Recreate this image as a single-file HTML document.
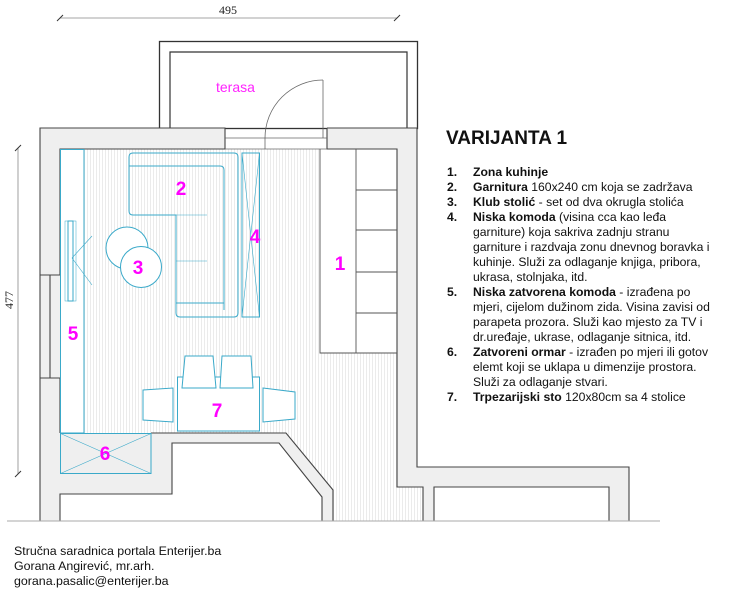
<!DOCTYPE html>
<html><head><meta charset="utf-8"><style>
html,body{margin:0;padding:0;background:#fff;}
svg{display:block;}
text{font-family:"Liberation Sans",sans-serif;}
</style></head><body>
<svg width="730" height="590" viewBox="0 0 730 590" xmlns="http://www.w3.org/2000/svg">
<defs>
<pattern id="fl" width="3" height="6" patternUnits="userSpaceOnUse"><rect width="3" height="6" fill="#fff"/><line x1="0.5" y1="0" x2="0.5" y2="6" stroke="#ebebeb" stroke-width="1"/></pattern>
</defs>
<line x1="60" y1="18" x2="397" y2="18" stroke="#888" stroke-width="0.8"/>
<line x1="57" y1="21" x2="63" y2="15" stroke="#333"/><line x1="394" y1="21" x2="400" y2="15" stroke="#333"/>
<text x="228" y="14" font-family="Liberation Serif" font-size="12" text-anchor="middle" fill="#222" style="font-family:'Liberation Serif',serif">495</text>
<line x1="18" y1="148" x2="18" y2="474" stroke="#888" stroke-width="0.8"/>
<line x1="15" y1="151" x2="21" y2="145" stroke="#333"/><line x1="15" y1="477" x2="21" y2="471" stroke="#333"/>
<text transform="translate(13,300) rotate(-90)" font-size="12" text-anchor="middle" fill="#222" style="font-family:'Liberation Serif',serif">477</text>
<rect x="159.5" y="41.5" width="258" height="87" fill="none" stroke="#333" stroke-width="1.3"/>
<polyline points="170,128 170,52 407,52 407,128" fill="none" stroke="#333" stroke-width="1.2"/>
<text x="216" y="92" font-size="14" fill="#ff22ff">terasa</text>
<path d="M40,128 H225 V149 H60 V433 H151 V433 H286 L333,490 V521 H322 V497 L279,443 H172 V494 H60 V521 H40 Z" fill="#efefef" stroke="none"/>
<path d="M327,128 H417 V467 H629 V521 H609 V487 H434 V521 H423 V487 H397 V149 H327 Z" fill="#efefef"/>
<path d="M84,149 H320 V353 H397 V487 H423 V521 H333 V490 L286,433 H84 Z" fill="url(#fl)"/>
<rect x="60" y="149" width="24" height="284" fill="#fff"/>
<g fill="none" stroke="#444" stroke-width="1.1">
<polyline points="40,521 40,128 225,128 225,149 60,149 60,275"/>
<polyline points="60,378 60,433"/>
<line x1="40" y1="275" x2="60" y2="275"/><line x1="50" y1="275" x2="50" y2="378"/><line x1="40" y1="378" x2="60" y2="378"/>
<polyline points="327,128 417,128 417,467 629,467 629,521"/>
<polyline points="327,128 327,149 397,149 397,487 423,487 423,521"/>
<polyline points="434,521 434,487 609,487 609,521"/>
<polyline points="151,433 286,433 333,490 333,521"/>
<polyline points="60,521 60,494 172,494 172,443 279,443 322,497 322,521"/>
<line x1="7" y1="521" x2="660" y2="521" stroke="#aaa"/>
</g>
<g fill="none" stroke="#666" stroke-width="0.8">
<line x1="225" y1="138" x2="327" y2="138"/><line x1="225" y1="149" x2="327" y2="149"/>
<line x1="323" y1="80" x2="323" y2="138"/>
<path d="M323,80 A58,58 0 0 0 265,138 V149"/>
</g>
<g fill="none" stroke="#555" stroke-width="0.9">
<polyline points="320,149 320,353 397,353"/>
<line x1="356" y1="149" x2="356" y2="353"/>
<line x1="356" y1="190" x2="397" y2="190"/><line x1="356" y1="230" x2="397" y2="230"/>
<line x1="356" y1="272" x2="397" y2="272"/><line x1="356" y1="313" x2="397" y2="313"/>
</g>
<g fill="none" stroke="#3aa9c9" stroke-width="1">
<rect x="60.5" y="149.5" width="23.5" height="283.5"/>
<rect x="68" y="221" width="5" height="80"/><rect x="65" y="221" width="11" height="80" stroke-width="0.5"/>
<line x1="72" y1="258" x2="92" y2="236" stroke-width="0.6"/><line x1="72" y1="258" x2="92" y2="285" stroke-width="0.6"/>
<path d="M133,153 H234 Q238,153 238,157 V313 Q238,317 234,317 H180 Q176,317 176,313 V215 H133 Q129,215 129,211 V157 Q129,153 133,153 Z"/>
<path d="M129,166 H220 Q224,166 224,170 V310 M176,303 H224"/>
<line x1="176" y1="215" x2="207" y2="215" stroke-width="0.6"/><line x1="176" y1="261" x2="207" y2="261" stroke-width="0.6"/>
<circle cx="127" cy="248" r="21" fill="#fff"/>
<circle cx="141" cy="267" r="20.5" fill="#fff"/>
<rect x="242" y="153" width="17.5" height="164"/>
<line x1="242" y1="153" x2="259.5" y2="317" stroke-width="0.6"/><line x1="259.5" y1="153" x2="242" y2="317" stroke-width="0.6"/>
<rect x="177.5" y="377" width="82" height="54" fill="#fff"/>
<path d="M185,356 H213 L216,388 H182 Z" fill="#fff"/>
<path d="M222,356 H251 L253,388 H220 Z" fill="#fff"/>
<path d="M143,390 L173,388 V422 L143,420 Z" fill="#fff"/>
<path d="M263,388 L295,392 V419 L263,422 Z" fill="#fff"/>
<rect x="60.5" y="433.5" width="90.5" height="40"/>
<line x1="60.5" y1="433.5" x2="151" y2="473.5" stroke-width="0.6"/><line x1="151" y1="433.5" x2="60.5" y2="473.5" stroke-width="0.6"/>
</g>
<g font-size="19" font-weight="bold" fill="#ff00ff" text-anchor="middle">
<text x="181" y="195">2</text><text x="255" y="243">4</text><text x="340" y="270">1</text>
<text x="138" y="274">3</text><text x="73" y="340">5</text><text x="217" y="417">7</text><text x="105" y="460">6</text>
</g>
<text x="446" y="144" font-size="19" font-weight="bold" fill="#111">VARIJANTA 1</text>
<g font-size="12.2" fill="#111">
<text x="447" y="176" font-weight="bold">1.</text><text x="473" y="176" font-weight="bold">Zona kuhinje</text>
<text x="447" y="191" font-weight="bold">2.</text><text x="473" y="191"><tspan font-weight="bold">Garnitura</tspan> 160x240 cm koja se zadržava</text>
<text x="447" y="206" font-weight="bold">3.</text><text x="473" y="206"><tspan font-weight="bold">Klub stolić</tspan> - set od dva okrugla stolića</text>
<text x="447" y="221" font-weight="bold">4.</text><text x="473" y="221"><tspan font-weight="bold">Niska komoda</tspan> (visina cca kao leđa</text>
<text x="473" y="236">garniture) koja sakriva zadnju stranu</text>
<text x="473" y="251">garniture i razdvaja zonu dnevnog boravka i</text>
<text x="473" y="266">kuhinje. Služi za odlaganje knjiga, pribora,</text>
<text x="473" y="281">ukrasa, stolnjaka, itd.</text>
<text x="447" y="296" font-weight="bold">5.</text><text x="473" y="296"><tspan font-weight="bold">Niska zatvorena komoda</tspan> - izrađena po</text>
<text x="473" y="311">mjeri, cijelom dužinom zida. Visina zavisi od</text>
<text x="473" y="326">parapeta prozora. Služi kao mjesto za TV i</text>
<text x="473" y="341">dr.uređaje, ukrase, odlaganje sitnica, itd.</text>
<text x="447" y="356" font-weight="bold">6.</text><text x="473" y="356"><tspan font-weight="bold">Zatvoreni ormar</tspan> - izrađen po mjeri ili gotov</text>
<text x="473" y="371">elemt koji se uklapa u dimenzije prostora.</text>
<text x="473" y="386">Služi za odlaganje stvari.</text>
<text x="447" y="401" font-weight="bold">7.</text><text x="473" y="401"><tspan font-weight="bold">Trpezarijski sto</tspan> 120x80cm sa 4 stolice</text>
</g>
<g font-size="12.4" fill="#111">
<text x="14" y="555">Stručna saradnica portala Enterijer.ba</text>
<text x="14" y="570">Gorana Angirević, mr.arh.</text>
<text x="14" y="585">gorana.pasalic@enterijer.ba</text>
</g>
</svg>
</body></html>
